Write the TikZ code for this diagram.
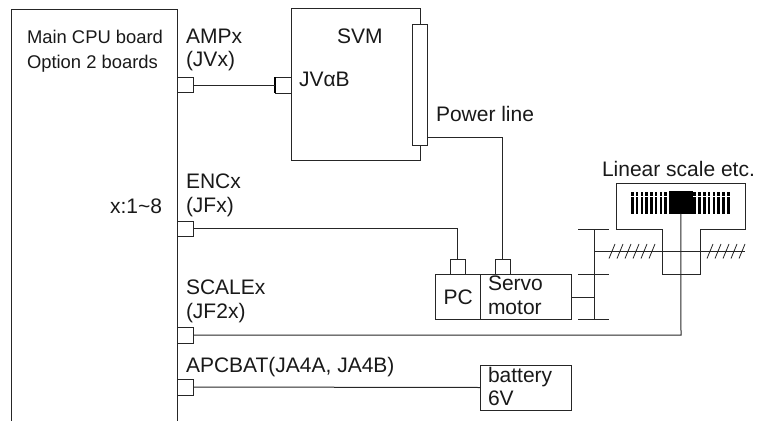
\documentclass[tikz,border=0pt]{standalone}
\usepackage{fontspec}
\setmainfont{Liberation Sans}
\tikzset{
  x=0.75pt,y=-0.75pt,
  line/.style={draw=black!85,line width=0.75pt},
  pbox/.style 2 args={line,fill=white,rectangle,inner sep=0pt,outer sep=0pt,minimum width=#1*0.75pt,minimum height=#2*0.75pt},
  lbl/.style={anchor=base west,inner sep=0pt,outer sep=0pt,font=\fontsize{15.75pt}{18pt}\selectfont,text=black!90},
  sml/.style={lbl,font=\fontsize{13.8pt}{16pt}\selectfont},
  stripe/.style={fill=black,draw=none}
}
\begin{document}
\begin{tikzpicture}
\useasboundingbox (0,0) rectangle (757,421);
% main board
\coordinate (mbl) at (11,421);
\coordinate (mtl) at (11,9);
\coordinate (mtr) at (177,9);
\coordinate (mbr) at (177,421);
\draw[line] (mbl) -- (mtl) -- (mtr) -- (mbr);
% SVM
\node[pbox={129}{152}] (svm) at (355.5,84.5) {};
\node[pbox={15.5}{121}] (bar) at (419.75,84.5) {};
\node[pbox={16}{16}] (svmc) at (283,85) {};
\draw[draw=black,line width=1.5pt] (svmc.north west) -- (svmc.south west);
% board connectors
\node[pbox={16}{15}] (amp) at (185,85) {};
\node[pbox={16}{15}] (enc) at (185,228.5) {};
\node[pbox={16}{16}] (scl) at (185,335) {};
\node[pbox={16}{16}] (apc) at (185,387) {};
% motor
\node[pbox={45}{45}] (pc) at (457.5,296.5) {};
\node[pbox={91}{45}] (servo) at (525.5,296.5) {};
\node[pbox={15}{15}] (pcc) at (457.5,266.5) {};
\node[pbox={15}{15}] (smc) at (502.5,266.5) {};
\node[pbox={91}{45}] (bat) at (525.5,387.5) {};
% connectors
\draw[line] (amp.east) -- (svmc.west);
\coordinate (pwr) at (427.5,137);
\draw[line] (pwr) -| (smc.north);
\draw[line] (enc.east) -| (pcc.north);
\draw[line] (apc.east) -- (bat.west);
% gear
\coordinate (g1) at (594,229);
\coordinate (g2) at (594,274);
\coordinate (g3) at (594,319);
\coordinate (g4) at (594,251);
\coordinate (g5) at (745,251);
\coordinate (sh) at (594,297);
\draw[line] (g1) -- (g3);
\draw[line] (578,229) -- (609,229);
\draw[line] (578,274) -- (609,274);
\draw[line] (578,319) -- (609,319);
\draw[line] (servo.east|-sh) -- (sh);
\draw[line] (g4) -- (g5);
\foreach \i in {0,...,5} \draw[line,line width=0.6pt] ({609+8*\i},258.5) -- ({615+8*\i},244);
\foreach \i in {0,...,4} \draw[line,line width=0.6pt] ({707+8*\i},258.5) -- ({713+8*\i},244);
% linear scale
\draw[line] (616,183) -- (745,183) -- (745,229) -- (700,229) -- (700,274) -- (662,274) -- (662,229) -- (616,229) -- cycle;
\foreach \i in {0,...,7} {
  \fill[stripe] ({631+4.75*\i},192.3) rectangle ++(2.7,3.4);
  \fill[stripe] ({631+4.75*\i},197) rectangle ++(2.7,16.5);
}
\foreach \i in {0,...,7} {
  \fill[stripe] ({693.3+4.8*\i},192.3) rectangle ++(2.7,3.4);
  \fill[stripe] ({693.3+4.8*\i},197) rectangle ++(2.7,16.5);
}
\node[fill=black,inner sep=0pt,outer sep=0pt,minimum width=17.6pt,minimum height=17pt] (head) at (680.8,202.3) {};
\coordinate (sb) at (681,335);
\draw[line] (head.south) -- (sb) -- (scl.east);
% labels
\node[sml] (t1) at (27,43) {Main CPU board};
\node[sml] (t2) at (27,68) {Option 2 boards};
\node[lbl] (t3) at (186,43) {AMPx};
\node[lbl] (t4) at (186,66) {(JVx)};
\node[lbl] (t5) at (337,43) {SVM};
\node[lbl] (t6) at (299,86) {JVαB};
\node[lbl] (t7) at (436,121) {Power line};
\node[lbl] (t8) at (602,176) {Linear scale etc.};
\node[lbl] (t9) at (186,188) {ENCx};
\node[lbl] (t10) at (186,212) {(JFx)};
\node[lbl] (t11) at (110,213) {x:1\textasciitilde 8};
\node[lbl] (t12) at (186,294) {SCALEx};
\node[lbl] (t13) at (186,318) {(JF2x)};
\node[lbl] (t14) at (186,372) {APCBAT(JA4A, JA4B)};
\node[lbl] (t15) at (443.5,304) {PC};
\node[lbl] (t16) at (488,290) {Servo};
\node[lbl] (t17) at (488,314) {motor};
\node[lbl] (t18) at (488,382) {battery};
\node[lbl] (t19) at (488,405) {6V};
\end{tikzpicture}
\end{document}
